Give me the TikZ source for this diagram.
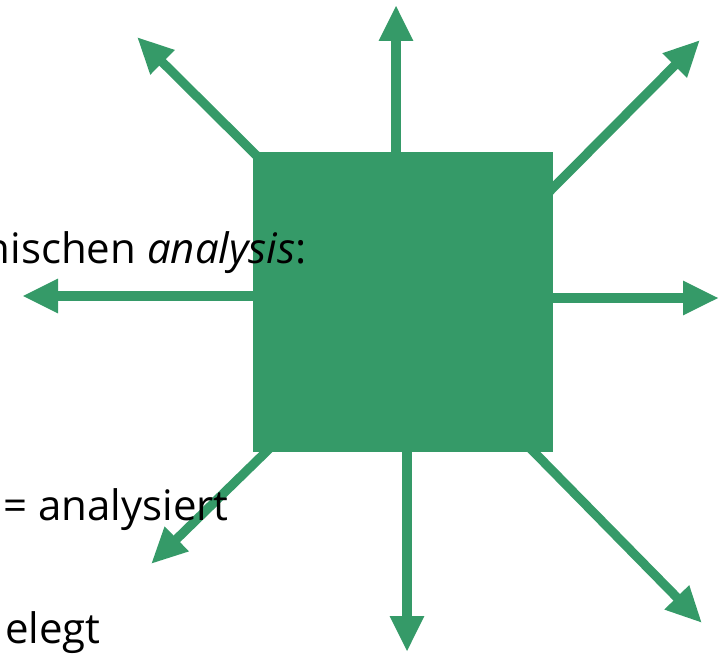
\documentclass[tikz,border=0pt]{standalone}
\usepackage{fontspec}
\setmainfont{Open Sans}
\usetikzlibrary{arrows.meta}
\definecolor{leaf}{RGB}{53,154,104}
\begin{document}
\begin{tikzpicture}[x=0.75pt,y=-0.75pt,
  ray/.style={draw=leaf,line width=6.9pt,-{Triangle[length=27pt,width=24pt]}},
  lbl/.style={inner sep=0pt,font=\fontsize{31.5pt}{36pt}\selectfont,text=black}]
  \useasboundingbox (0,0) rectangle (724,656);
  % central block
  \node[fill=leaf,minimum size=225pt,inner sep=0pt,anchor=north west] (sq) at (253,152) {};
  % ray ends
  \coordinate (tN)  at (396,5);
  \coordinate (tS)  at (407,652);
  \coordinate (tW)  at (22,296);
  \coordinate (tE)  at (719,298);
  \coordinate (tNW) at (137,37);
  \coordinate (tNE) at (700,40);
  \coordinate (tSW) at (151,564);
  \coordinate (tSE) at (702,623);
  % ray starts on the block
  \coordinate (sN)  at (396,156);
  \coordinate (sS)  at (407,448);
  \coordinate (sW)  at (257,296);
  \coordinate (sE)  at (549,298);
  \coordinate (sNW) at (257,156);
  \coordinate (sNE) at (549,192);
  \coordinate (sSW) at (270,448);
  \coordinate (sSE) at (530,448);
  \foreach \d in {N,S,W,E,NW,NE,SW,SE}
    \draw[ray] (s\d) -- (t\d);
  % text lines
  \node[lbl,anchor=base east] (l1) at (307,263) {nischen \textit{analysis}:};
  \node[lbl,anchor=base west] (l2) at (3,520) {= analysiert};
  \node[lbl,anchor=base east] (l3) at (101,643) {elegt};
\end{tikzpicture}
\end{document}
